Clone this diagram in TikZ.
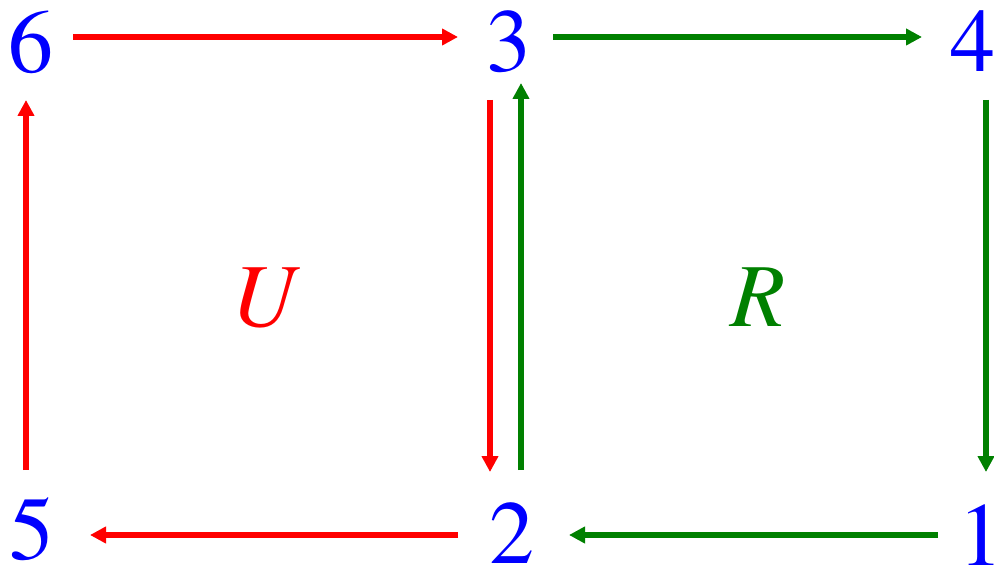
\documentclass[tikz,border=0pt]{standalone}
\usepackage{fontspec}
\newfontfamily\tnr{texgyretermes}[Extension=.otf, UprightFont=*-regular, ItalicFont=*-italic, BoldFont=*-bold]
\usetikzlibrary{arrows.meta}
\definecolor{dgreen}{RGB}{0,128,0}
\tikzset{
  num/.style={text=blue, inner sep=0pt, font=\tnr\fontsize{90}{90}\selectfont},
  lab/.style={inner sep=0pt, font=\tnr\fontsize{90}{90}\selectfont\itshape},
  rarr/.style={draw=red, line width=5.5pt, -{Triangle[length=16pt,width=16pt]}},
  garr/.style={draw=dgreen, line width=5.5pt, -{Triangle[length=16pt,width=16pt]}}
}
\begin{document}
\begin{tikzpicture}[x=1pt,y=-1pt]
\useasboundingbox (0,0) rectangle (994,567);
\node[num] (n6) at (31,42) {6};
\node[num] (n3) at (509,42) {3};
\node[num] (n4) at (973,41) {4};
\node[num] (n5) at (32,529) {5};
\node[num] (n2) at (512,533) {2};
\node[num] (n1) at (981,535) {1};
\node[lab, text=red] (u) at (264,298) {U};
\node[lab, text=dgreen] (r) at (758,297) {R};
\draw[rarr] ([shift={(42,-5)}]n6.center) -- ([shift={(-51,-5)}]n3.center);
\draw[garr] ([shift={(44,-5)}]n3.center) -- ([shift={(-51,-4)}]n4.center);
\draw[garr] ([shift={(13,59)}]n4.center) -- ([shift={(5,-63)}]n1.center);
\draw[garr] ([shift={(-43,0)}]n1.center) -- ([shift={(57,2)}]n2.center);
\draw[rarr] ([shift={(-54,2)}]n2.center) -- ([shift={(58,6)}]n5.center);
\draw[rarr] ([shift={(-6,-59)}]n5.center) -- ([shift={(-5,58)}]n6.center);
\draw[rarr] ([shift={(-19,58)}]n3.center) -- ([shift={(-22,-61)}]n2.center);
\draw[garr] ([shift={(9,-63)}]n2.center) -- ([shift={(12,41)}]n3.center);
\end{tikzpicture}
\end{document}
